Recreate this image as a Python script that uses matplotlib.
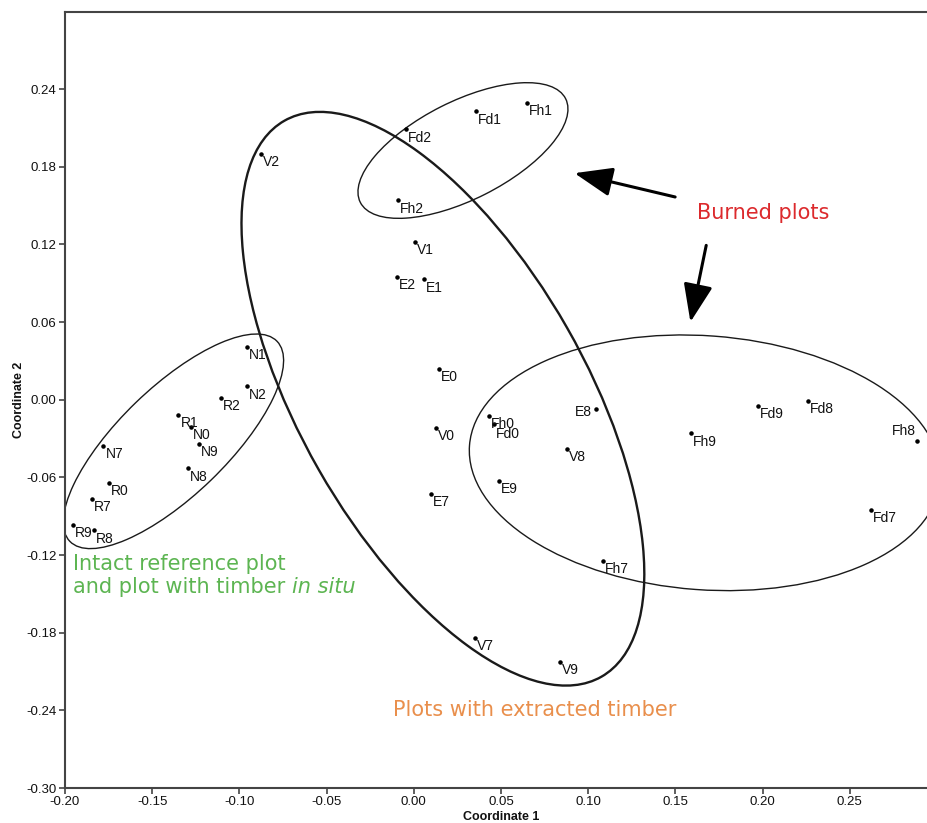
import numpy as np
import matplotlib
matplotlib.use("Agg")
import matplotlib.pyplot as plt
from matplotlib.patches import Ellipse, FancyArrowPatch
from matplotlib.transforms import ScaledTranslation

# PCoA scores of the plots
plot_ids = ['V2', 'N1', 'N2', 'R2', 'R1', 'N0', 'N9', 'N7', 'N8', 'R0', 'R7', 'R9', 'R8',
            'Fd2', 'Fd1', 'Fh1', 'Fh2', 'V1', 'E2', 'E1', 'E0', 'Fh0', 'Fd0', 'V0',
            'E8', 'V8', 'E9', 'E7', 'Fh7', 'Fd9', 'Fd8', 'Fh9', 'Fh8', 'Fd7', 'V7', 'V9']
coord1 = [-0.0876, -0.0956, -0.0956, -0.1106, -0.1350, -0.1278, -0.1230, -0.1780, -0.1295,
          -0.1748, -0.1845, -0.1954, -0.1834,
          -0.0045, 0.0357, 0.0650, -0.0090, 0.0007, -0.0096, 0.0058, 0.0144, 0.0431, 0.0460,
          0.0127, 0.1045, 0.0878, 0.0489, 0.0099, 0.1085, 0.1974, 0.2260, 0.1590, 0.2885,
          0.2620, 0.0350, 0.0838]
coord2 = [0.1900, 0.0410, 0.0103, 0.0015, -0.0116, -0.0210, -0.0340, -0.0355, -0.0530,
          -0.0640, -0.0766, -0.0967, -0.1010,
          0.2090, 0.2230, 0.2297, 0.1540, 0.1220, 0.0950, 0.0930, 0.0240, -0.0124, -0.0186,
          -0.0217, -0.0070, -0.0380, -0.0626, -0.0727, -0.1245, -0.0046, -0.0008, -0.0260,
          -0.0317, -0.0850, -0.1840, -0.2026]

x_ticks = [-0.20, -0.15, -0.10, -0.05, 0.00, 0.05, 0.10, 0.15, 0.20, 0.25]
y_ticks = [-0.30, -0.24, -0.18, -0.12, -0.06, 0.00, 0.06, 0.12, 0.18, 0.24]

# group outlines: centre (coord1, coord2), semi-axes in pixels, tilt in degrees, line width
groups = [
    ((-0.1378, -0.0321), 144, 54, 44.0, 1.0),
    ((0.0167, 0.0008), 320, 143, -60.3, 1.7),
    ((0.0282, 0.1926), 115, 49, 26.8, 1.0),
    ((0.1669, -0.0487), 236, 127, -4.2, 1.0),
]

# label placement where the default (right, below) is not used
label_pos = {
    'E8': ((-3, -2), 'right', 'center'),
    'Fh8': ((-1, 2), 'right', 'bottom'),
    'Fd0': ((1.5, -2.5), 'left', 'top'),
}

plt.rcParams['font.family'] = ['Liberation Sans', 'DejaVu Sans']

fig = plt.figure(figsize=(9.28, 8.23), dpi=100)
ax = fig.add_axes([0.0700, 0.0425, 0.9397, 0.9435])
ax.set_xlim(-0.20, 0.30)
ax.set_ylim(-0.30, 0.30)

for (cx, cy), a, b, ang, lw in groups:
    tr = fig.dpi_scale_trans + ScaledTranslation(cx, cy, ax.transData)
    ax.add_patch(Ellipse((0, 0), 2 * a / 100, 2 * b / 100, angle=ang, transform=tr,
                         fill=False, edgecolor='#1a1a1a', lw=lw))

ax.scatter(coord1, coord2, s=5, color='black', zorder=3)
for name, x, y in zip(plot_ids, coord1, coord2):
    off, ha, va = label_pos.get(name, ((1.5, -1), 'left', 'top'))
    ax.annotate(name, (x, y), xytext=off, textcoords='offset points',
                ha=ha, va=va, fontsize=10, color='#111')

# group captions
green = '#5db552'
ax.text(-0.1954, -0.1268, 'Intact reference plot', color=green, fontsize=15,
        family='DejaVu Sans', va='center')
line2 = ax.text(-0.1954, -0.1446, 'and plot with timber ', color=green, fontsize=15,
                family='DejaVu Sans', va='center')
ax.annotate('in situ', xy=(1, 0), xycoords=line2, va='bottom', ha='left', color=green,
            fontsize=15, family='DejaVu Sans', style='italic')
ax.text(-0.012, -0.2397, 'Plots with extracted timber', color='#e98f4c', fontsize=15,
        family='DejaVu Sans', va='center')
ax.text(0.1623, 0.1446, 'Burned plots', color='#dc2a2d', fontsize=15,
        family='DejaVu Sans', va='center')

for tail, head in [((0.1514, 0.1562), (0.0906, 0.1756)), ((0.1680, 0.1214), (0.1583, 0.0580))]:
    ax.add_patch(FancyArrowPatch(tail, head, arrowstyle='-|>,head_length=1.3,head_width=0.5',
                                 mutation_scale=18, lw=2.2, color='black'))

ax.set_xticks(x_ticks)
ax.set_yticks(y_ticks)
ax.set_xticklabels(['%.2f' % v for v in x_ticks])
ax.set_yticklabels(['%.2f' % v for v in y_ticks])
ax.tick_params(direction='out', length=4, width=1.2, color='#444', labelsize=9.5,
               pad=2, labelcolor='#111')
for side in ['left', 'bottom', 'top']:
    ax.spines[side].set_linewidth(1.5)
    ax.spines[side].set_color('#444')
ax.spines['right'].set_visible(False)

ax.set_xlabel('Coordinate 1', fontsize=9, fontweight='bold', color='#111')
ax.set_ylabel('Coordinate 2', fontsize=9, fontweight='bold', color='#111')
ax.xaxis.set_label_coords(0.5, -0.029)
ax.yaxis.set_label_coords(-0.046, 0.5)

fig.savefig('out.png', dpi=100)
